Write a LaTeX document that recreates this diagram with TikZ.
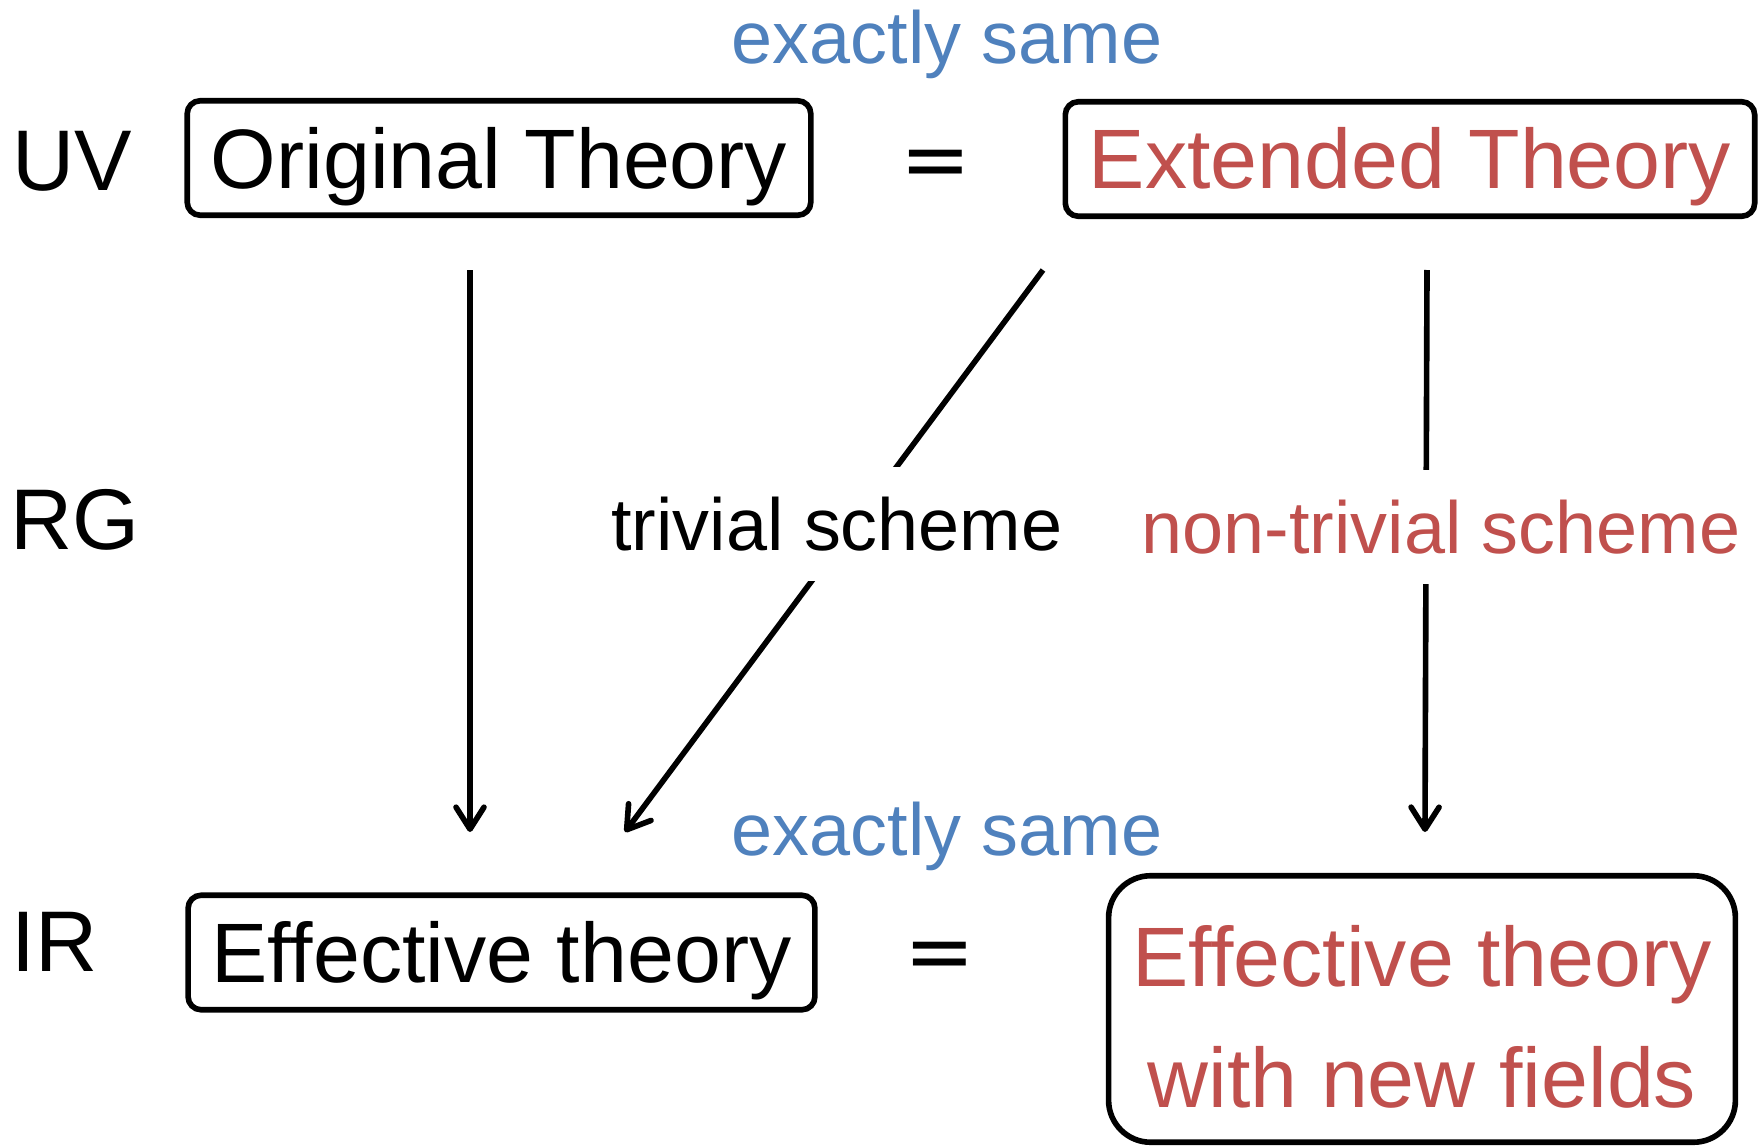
\documentclass[tikz,border=0pt]{standalone}
\usepackage{fontspec}
\setmainfont{Liberation Sans}
\newfontfamily\eqfont{DejaVu Sans}
\definecolor{sameBlue}{HTML}{4F81BD}
\definecolor{schemeRed}{HTML}{C0504D}
\usetikzlibrary{arrows.meta, positioning}
\begin{document}
\begin{tikzpicture}[
    theory/.style={rectangle, draw=black, line width=1.6pt, rounded corners=0.13cm,
                   inner xsep=0.235cm, inner ysep=0pt, minimum height=1.145cm,
                   text height=0.6cm, text depth=0pt, font=\fontsize{24}{29}\selectfont},
    arrow/.style={-{Straight Barb[length=0.22cm, width=0.28cm, round]}, line width=1.6pt},
    scheme/.style={font=\fontsize{21}{25}\selectfont, fill=white, inner xsep=0.1cm, inner ysep=0.3cm, anchor=base},
    same/.style={font=\fontsize{21}{25}\selectfont, text=sameBlue, inner sep=0pt, anchor=base},
    level/.style={font=\fontsize{24.5}{29}\selectfont, inner sep=0pt, anchor=base west},
    equal/.style={font=\eqfont\fontsize{24}{29}\selectfont, inner sep=0pt}
  ]
    \useasboundingbox (0,0) rectangle (17.63,-11.46);
    \node[level] (uv) at (0.12,-1.90) {UV};
    \node[level] (rg) at (0.10,-5.49) {RG};
    \node[level] (ir) at (0.11,-9.71) {IR};
    \node[theory] (orig) at (4.99,-1.58) {Original Theory};
    \node[theory, text=schemeRed] (ext) at (14.10,-1.59) {Extended Theory};
    \node[theory] (eff) at (5.015,-9.525) {Effective theory};
    \node[theory, rounded corners=0.42cm, minimum width=6.19cm, minimum height=2.665cm, align=center,
          text=schemeRed, text height=1.96cm, font=\fontsize{24}{34.4}\selectfont]
          (effnew) at (14.22,-10.09) {Effective theory\\with new fields};
    \node[equal] (eqtop) at (9.36,-1.69) {=};
    \node[equal] (eqbot) at (9.40,-9.61) {=};
    \node[same] (sametop) at (9.47,-0.63) {exactly same};
    \node[same] (samebot) at (9.47,-8.55) {exactly same};
    \coordinate (orig-out) at (4.70,-2.70);
    \coordinate (eff-in) at (4.70,-8.32);
    \coordinate (ext-out) at (10.43,-2.70);
    \coordinate (eff-in2) at (6.25,-8.32);
    \coordinate (ext-down) at (14.27,-2.70);
    \coordinate (effnew-in) at (14.25,-8.32);
    \draw[arrow] (orig-out) -- (eff-in);
    \draw[arrow] (ext-out) -- (eff-in2);
    \draw[arrow] (ext-down) -- (effnew-in);
    \node[scheme] (trivial) at (8.37,-5.50) {trivial scheme};
    \node[scheme, text=schemeRed] (nontrivial) at (14.41,-5.53) {non-trivial scheme};
\end{tikzpicture}
\end{document}
